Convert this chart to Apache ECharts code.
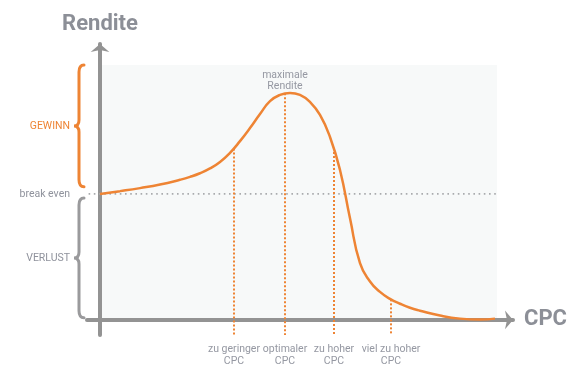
<!DOCTYPE html>
<html>
<head>
<meta charset="utf-8">
<script src="https://cdn.jsdelivr.net/npm/echarts@6/dist/echarts.min.js"></script>
<style>html,body{margin:0;padding:0;background:#fff}#c{width:581px;height:385px}</style>
</head>
<body>
<div id="c"></div>
<script>
// ---- data ----
const curveX = [0, 5, 10, 15, 20, 22.5, 25, 27.5, 30, 32.5, 35, 37.5, 40, 42.5, 45, 47.5, 50, 52.5, 55, 57.5, 60, 62.5, 65, 67.5, 70, 72.5, 75, 77.5, 80, 85, 90, 95, 98.75];
const curveY = [100, 102.2, 104.6, 107.4, 111.2, 113.5, 116.4, 120.2, 125.4, 132.6, 141.9, 152.3, 163.4, 173.6, 178.6, 180.2, 178.6, 173, 162.7, 145.2, 119, 80.6, 45, 30.5, 22.2, 16.7, 12.8, 9.6, 7.3, 3.4, 1, 0.3, 1.0];
const markerX = [33.5, 46.25, 58.5, 72.75];
const markerTop = [136, 180, 136.5, 16.3];
const markerLabels = ['zu geringer\nCPC', 'optimaler\nCPC', 'zu hoher\nCPC', 'viel zu hoher\nCPC'];
const peakLabel = 'maximale\nRendite';
const breakEven = 100;
const breakEvenRange = [-6.75, 99.25];
const plotArea = [[0, 0], [99.25, 202.4]];
const braceRanges = [[105.6, 202.4], [1.6, 96.8]];
const sideLabelValues = [49.2, 100, 154];
const sideLabelTexts = {49: 'VERLUST', 100: 'break even', 154: 'GEWINN'};
const axisNames = {x: 'CPC', y: 'Rendite'};

// ---- styles ----
const ORANGE = '#ee8434';
const AXIS = '#939393';
const TXT = '#9598a2';
const FONT = 'Roboto, sans-serif';

const chart = echarts.init(document.getElementById('c'), null, {renderer: 'canvas'});

const markerSeries = markerX.map((x, i) => ({
  type: 'line', z: 5, clip: false, symbol: 'circle', symbolSize: 0, showSymbol: true, silent: true,
  itemStyle: {color: ORANGE},
  lineStyle: {color: ORANGE, width: 2, type: [2, 2]},
  data: [
    i === 1 ? {value: [x, markerTop[i]], label: {show: true, position: 'top', distance: 1, formatter: peakLabel, color: TXT, fontSize: 10.5, lineHeight: 11, fontFamily: FONT}} : [x, markerTop[i]],
    [x, -12]
  ]
}));

chart.setOption({
  animation: false,
  grid: {left: 87, right: 68, top: 44, bottom: 50},
  xAxis: {
    type: 'value', min: -3.25, max: 103.25, z: 3,
    name: axisNames.x, nameLocation: 'end', nameGap: 11,
    nameTextStyle: {color: '#8c8f97', fontSize: 22, fontWeight: 'bold', fontFamily: FONT, verticalAlign: 'middle'},
    axisLine: {onZero: true, lineStyle: {color: AXIS, width: 4}, symbol: ['none', 'arrow'], symbolSize: [14, 8]},
    axisTick: {show: false},
    splitLine: {show: false},
    axisLabel: {
      customValues: markerX, margin: 8, color: TXT, fontSize: 10.5, lineHeight: 12, fontFamily: FONT,
      showMinLabel: true, showMaxLabel: true, hideOverlap: false,
      formatter: (v) => { const i = markerX.indexOf(v); return i >= 0 ? markerLabels[i] : ''; }
    }
  },
  yAxis: {
    type: 'value', min: -12, max: 219, z: 3,
    name: axisNames.y, nameLocation: 'end', nameGap: 9,
    nameTextStyle: {color: '#8c8f97', fontSize: 22, fontWeight: 'bold', fontFamily: FONT, align: 'center'},
    axisLine: {onZero: true, lineStyle: {color: AXIS, width: 4}, symbol: ['none', 'arrow'], symbolSize: [14, 8]},
    axisTick: {show: false},
    splitLine: {show: false},
    axisLabel: {
      customValues: sideLabelValues, margin: 17, fontSize: 10.5, fontFamily: FONT,
      showMinLabel: true, showMaxLabel: true, hideOverlap: false,
      color: (v) => Math.round(v) === 154 ? ORANGE : '#8f929c',
      formatter: (v) => sideLabelTexts[Math.round(v)] || ''
    }
  },
  series: [
    {
      type: 'line', z: 1, data: [], silent: true,
      markArea: {silent: true, itemStyle: {color: '#f7f9f9'}, data: [[{coord: plotArea[0]}, {coord: plotArea[1]}]]}
    },
    {
      type: 'line', z: 4, clip: false, symbol: 'none', silent: true,
      lineStyle: {color: '#a9abad', width: 1.6, type: [1.6, 3.6]},
      data: [[breakEvenRange[0], breakEven], [breakEvenRange[1], breakEven]]
    },
    ...markerSeries,
    {
      type: 'line', z: 6, clip: false, symbol: 'none', silent: true,
      smooth: 0.5,
      lineStyle: {color: ORANGE, width: 2.5},
      data: curveX.map((x, i) => [x, curveY[i]])
    },
    {
      type: 'custom', z: 4, clip: false, silent: true,
      coordinateSystem: 'cartesian2d',
      encode: {x: 2, y: 1},
      data: braceRanges.map((r, i) => [r[0], r[1], 0, i]),
      renderItem: (params, api) => {
        const yb = api.value(0), yt = api.value(1), ci = api.value(3);
        const top = api.coord([0, yt]), bot = api.coord([0, yb]);
        const ax = top[0];
        const xR = ax - 16, xB = ax - 21, xP = ax - 26;
        const t = top[1], b = bot[1], m = (t + b) / 2;
        const d = `M${xR} ${t} Q${xB} ${t} ${xB} ${t + 7} L${xB} ${m - 6} Q${xB} ${m} ${xP} ${m} Q${xB} ${m} ${xB} ${m + 6} L${xB} ${b - 7} Q${xB} ${b} ${xR} ${b}`;
        return {type: 'path', shape: {pathData: d}, style: {stroke: ci === 0 ? ORANGE : '#9a9a9c', lineWidth: 3, fill: null, lineCap: 'round'}};
      }
    }
  ]
});
</script>
</body>
</html>
